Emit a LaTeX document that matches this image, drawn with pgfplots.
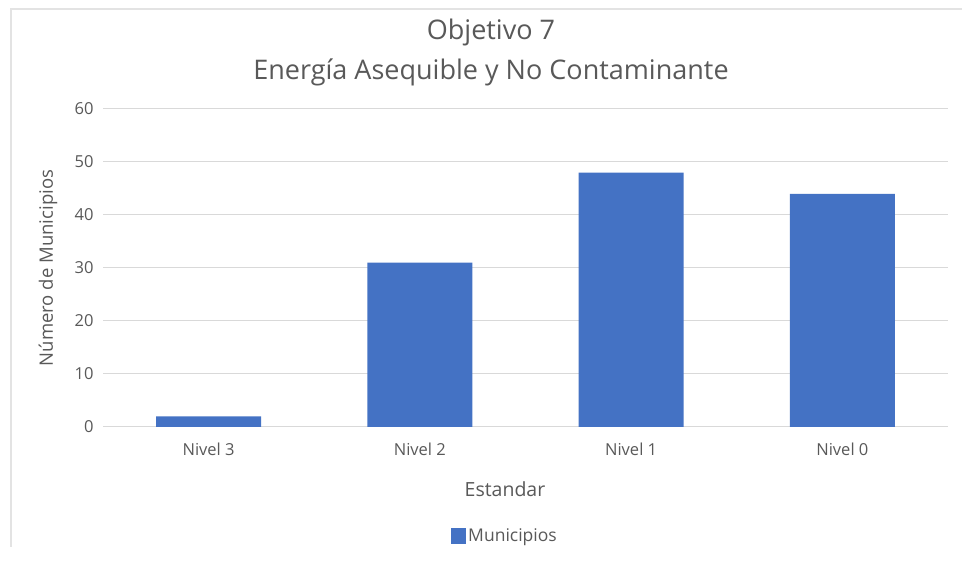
\documentclass[border=0pt]{standalone}
\usepackage{pgfplots}
\pgfplotsset{compat=1.18}
\usepackage{fontspec}
\setmainfont{Open Sans}
\definecolor{barblue}{HTML}{4472C4}
\definecolor{txtgray}{HTML}{595959}
\definecolor{gridgray}{HTML}{D9D9D9}
\definecolor{framegray}{HTML}{E3E3E3}
\begin{document}
\begin{tikzpicture}[x=1pt,y=1pt]
\useasboundingbox[fill=white] (0,0) rectangle (962,564);
% faint frame of the chart area
\draw[framegray,line width=1.5pt] (11,17) -- (11,555) -- (962,555);
\begin{axis}[
    at={(103pt,137pt)}, anchor=south west,
    scale only axis, width=845pt, height=318pt,
    xmin=-0.5, xmax=3.5, ymin=0, ymax=60,
    xtick=data, xticklabels={Nivel 3,Nivel 2,Nivel 1,Nivel 0},
    ytick={0,10,...,60},
    axis line style={draw=none},
    major tick length=0pt,
    ymajorgrids, grid style={gridgray,line width=1pt},
    tick label style={font=\fontsize{16.5}{18}\selectfont,text=txtgray},
    /pgf/number format/assume math mode=true,
    yticklabel style={xshift=-6pt},
    xticklabel style={yshift=-12pt},
    legend style={draw=none,fill=none,at={(402pt,-109pt)},anchor=center,
        font=\fontsize{17.5}{19}\selectfont,text=txtgray,
        /tikz/every even column/.append style={column sep=2pt}},
    legend image code/.code={\fill[barblue] (0pt,-8pt) rectangle (15pt,8pt);},
]
\addplot[ybar, bar width=105pt, fill=barblue, draw=none] coordinates {
    (0,2) (1,31) (2,48) (3,44)
};
\addlegendentry{Municipios}
\end{axis}
\node[text=txtgray,font=\fontsize{27}{30}\selectfont] at (491,532) {Objetivo 7};
\node[text=txtgray,font=\fontsize{27}{30}\selectfont] at (491,492) {Energía Asequible y No Contaminante};
\node[text=txtgray,font=\fontsize{19.5}{21}\selectfont] at (505,75) {Estandar};
\node[text=txtgray,font=\fontsize{18.5}{20}\selectfont,rotate=90] at (48,296) {Número de Municipios};
\end{tikzpicture}
\end{document}
